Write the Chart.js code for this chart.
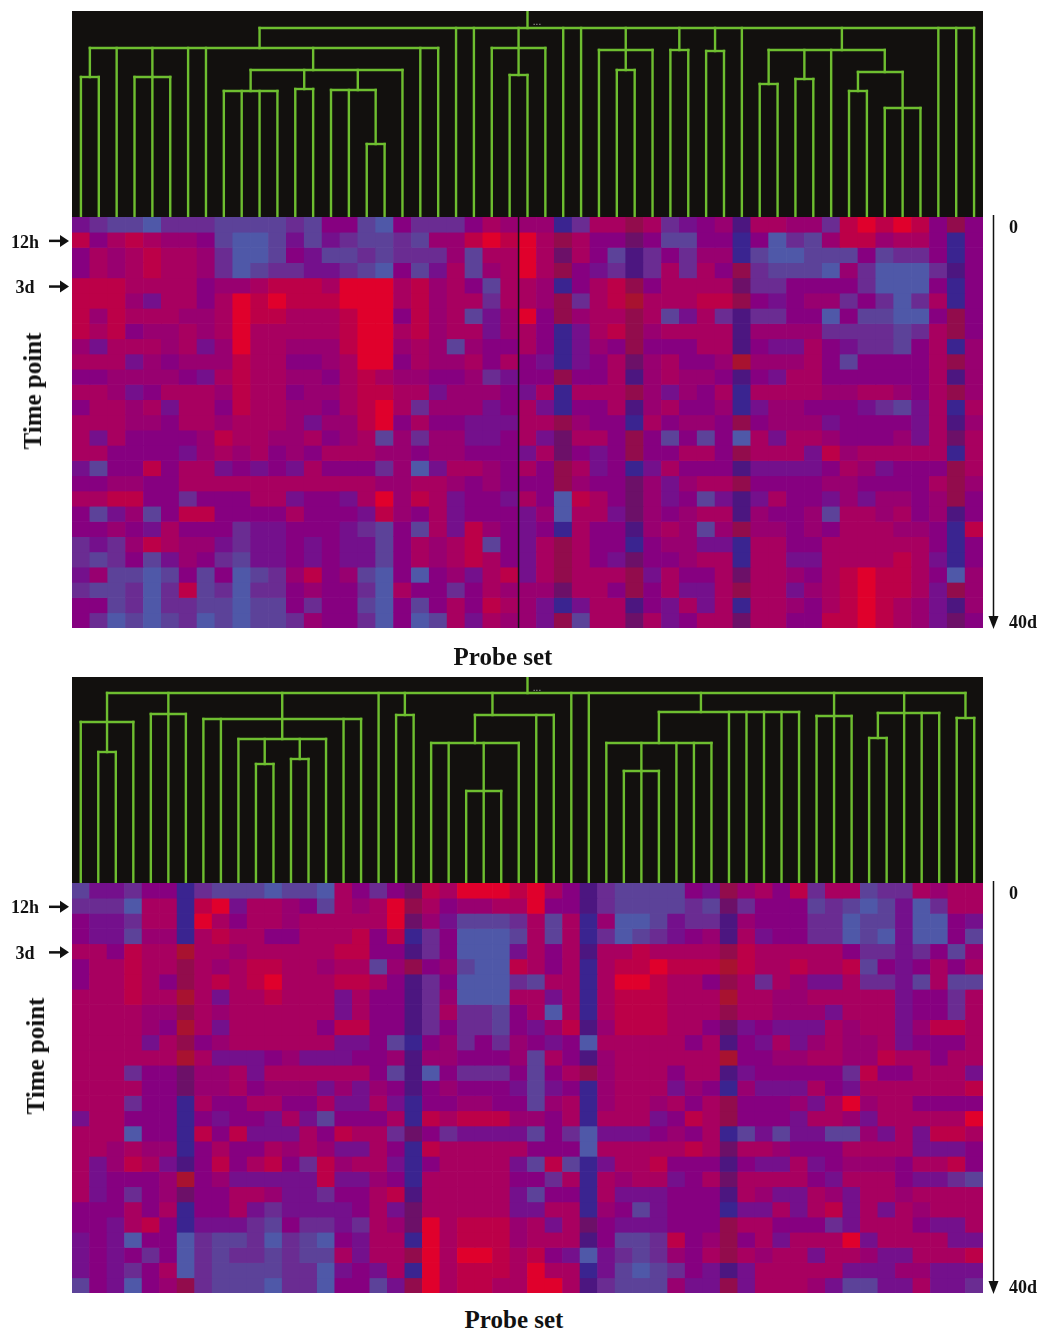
<!DOCTYPE html>
<html>
<head>
<meta charset="utf-8">
<title>Probe set heat maps</title>
<script src="https://cdn.jsdelivr.net/npm/chart.js@4/dist/chart.umd.min.js"></script>
<style>
    html, body { margin: 0; padding: 0; background: #fff; }
    #page { position: relative; width: 1043px; height: 1332px; overflow: hidden; }
    canvas { position: absolute; display: block; filter: blur(0.5px); }
    .dendro { background: #12100e; }
    .label {
        position: absolute;
        font: bold 25px "Liberation Serif", serif;
        color: #111;
        white-space: nowrap;
        transform: translate(-50%, -50%);
    }
    .label.vertical { transform: translate(-50%, -50%) rotate(-90deg); }
    .dots { position: absolute; font: 10px "Liberation Sans", sans-serif; color: #aaa; transform: translate(-50%, -50%); }
</style>
</head>
<body>
<div id="page">
    <canvas id="topTree" class="dendro" width="911" height="206" style="left:72px;top:11px"></canvas>
    <canvas id="topHeat" width="1043" height="419" style="left:0;top:213px"></canvas>
    <canvas id="bottomTree" class="dendro" width="911" height="206" style="left:72px;top:677px"></canvas>
    <canvas id="bottomHeat" width="1043" height="418" style="left:0;top:879px"></canvas>

    <div class="dots" style="left:537px;top:21px">...</div>
    <div class="dots" style="left:537px;top:687px">...</div>
    <div class="label vertical" style="left:33px;top:391px">Time point</div>
    <div class="label" style="left:503px;top:657px">Probe set</div>
    <div class="label vertical" style="left:36px;top:1056px">Time point</div>
    <div class="label" style="left:514px;top:1320px">Probe set</div>
</div>

<script>
// expression shades: a = strongest red ... i = blue, j-n = the darker control columns
const shadeColors = {
    a: "#e0002c", b: "#bc0048", c: "#a80060", d: "#980070", e: "#860080",
    f: "#74108c", g: "#6a2c92", h: "#5c4299", i: "#4f58a8",
    j: "#3a2490", k: "#4c1680", l: "#6c1068", m: "#920c4c", n: "#a81230"
};

const leftTickRows = [1.7, 4.7];
const leftTickLabels = ["12h", "3d"];
const rightTickRows = [0.75, 26.7];
const rightTickLabels = ["0", "40d"];

// upper heat map, 27 time points x 51 probe sets
const topRows = [
    "fghhi ggghh hhghe ehieg ggecd ddjgc cmcgf edkcc ddgba babem e",
    "becbc ddehi ihfhf ghhgh ddbab acmce elehh eejei ghdbb dccej e",
    "ecdcb ccdgi ihefh hghgg gdhcc aclce hkgeg ddjhi ihhhe hggej e",
    "ecdcb ccdgi hggff ghieh fchdc acmef gkgcg cemgh hhidg iiigk e",
    "bbbcc ccedd cbbbc aaacb dcehc cdjec bmecc cclgg eeeeg iiiej e",
    "bbbdf cceca babbb aaacb dccgc cdmgc bnccc bbmef eddge gigcj e",
    "bdbcc cddca bbccc baaeb dchfd aemdc cmchf cgkgg eeieh hiiem e",
    "bcbed dcdca ccccc baacb dccfd cejfc bmdcc cckdd ddggg ghgcm e",
    "dfccc dcfda ccddd baadc dhdee cejfd emeee cckef fcefg ghecj d",
    "cccfd edddb cceed caaec ddcec efjfe cldce edndd dcehe eeecm d",
    "eeddd defcb ccdde cbcdd eedgf eemee ckdcd dekef cceee eeeck d",
    "ccdfe cccdb ccedd cbbcc fddde fcjcc cmdfd ecjcc ccddc cdecm d",
    "eccdc fcceb ccdde cbacg dddfe cfjee ckdce edjfd deeef ghfcj c",
    "cccdd eccdc ccdfd dbaec eefff ccmde ejced demed ddfee eefck d",
    "cfcee eedbc cddce dchdg ddffe cflcc emehe heicf ccdee edfcl c",
    "cceee efdcd cedec ccdde ddeee fclef emeec cemcc cfbdc ccccj c",
    "fheeb eccfe fefce eegdi fccde cemcf ejfce eekff ffecd feeem c",
    "eedde ecccc ccccc ccddc cdede eemde eldfd ccmee eedde eeecm d",
    "ccbbe egeee ccfee fcadb cfeef ceibc eldfe hfkfc eefdf ddedm e",
    "ehfdh ebbee eecee efbde cfeee fdicc flded cckde edhcc dcedk e",
    "eedef ceeeg ffeee fgheh cfbde fejce ekdcd hdmdd edecc cddej b",
    "gfgdb cddfg ffefe ffhec dcbhe fcmce ejedd ffjcc eeccc cccej e",
    "ghgeh fdegh ffefe ffhec dcbce fcmce fleed ccjcc ffccc cbcfj e",
    "fdhhi hehei hgdbe dhiei edfcb fcmcc cmfce eclcc decba bbcei d",
    "ghhgi gbhgi ggede egice egecd ddlcc emecf fcmcc fdcba bbcfm d",
    "eehgi gghhi hhege ehieh ecebc dfjfc ckefc fcjcc decba bcdfk d",
    "egihi hgihi hhgde egiei hcfcd dfmhc clcfe cclcc eebba bcdfl e"
];

// lower heat map, 27 time points x 52 probe sets
const bottomRows = [
    "hffge ejghh hihhi cegel bcaaa b acekg hhhhe fmdce bgcch ggcdc c",
    "gggic cjbaf ccdeh cdcam ceddc c aeekg hhhhg hlgee ehghi hfigc c",
    "effgc cjace ccdcc cccal dfhhh g chcjd iihfg gkdee eggih hfiie f",
    "effhd djcbc ceecc cbebj geiii h chcjg ihgfe dkcfe eggih ifiie h",
    "ccebc cnccd ccccc bbeek geiii f ceckc cbccc cmbcc ccceg gfgeh d",
    "eccbc cmcdc bbccd cchdm edhii b cecjc bbabb bnbcc bccbh efece c",
    "eccbc emcbc baccc bbcek geiii g hccjc aabcc emcgc dffcg gfhch h",
    "cccbc cncfc cbccc fceek gdiii c cfcjc bbbcc cnccd dcccc cfeeg c",
    "ccccd dmcdc ccccc fceek gcggh e cicjc bbbcc cmccd ddfcc cfeeg c",
    "ccccd encfc cccce bbeek geggh e fdbkd bbbcc elfef ffcdc cfdbb c",
    "ccccf cmedc ccccc ffehj edgeg d efeic cccce ckefc fdcdd cfeee c",
    "ccccc cncff fedff feedk ddeee d hcekd ccccc cneed dccdd bccec c",
    "cccge elddc fcccc ccehk ieggg e hecmd cccec ckfee eeegb eeccc f",
    "cccce elddc edddf dfdek edeee f hfejd cccfd ejdff fcefc ccccc b",
    "cccge ejcee cceec ffcfj eedde e hdcjd ccdce cmeee dfcad cceee e",
    "fccee ejefe efcfh eeecj bcbbb d decjc ccfeb cmeee fccdf ccccc a",
    "cccie ejbeb fffce bccgl egfff f hegif ffede cjhfh ffhhd fcfbb c",
    "ccdcd djece ecdcd ffcej bcccc c eeeic ccccb clccd eeecc ccfff e",
    "cfdbc fkebe cbegb dccfj ecccc f hbhjf ccbee ekeff cfedd deccb e",
    "cfeee dnedf ffffb ffdej ccccc e egcjc dccfe clccc cefcc ceffg h",
    "cfege dleec cdffg eecbk ccccc f heejc fffee ekcdf fcdfc cdccc c",
    "eeece cjeec fgfff fecfl ccccc f fccjd ehfee ejffc fcbfc fcdcc c",
    "eefcb ejfff ghegg fgcdl acbbb d cfcle fffee emcce eegfc cceff c",
    "fefie eighh gighi efccj acbbb d cccke hhgbe dmecf cccaf ccccf f",
    "fefeg eighg ghghh cfccm acaab c befif ghgde cmcdc cfccd ffccc b",
    "fefge cighh hhggi fefcj acbbb c accjf hihge fkfcc cccff fddff f",
    "hefie dmghh higgi eehfm acbbc c aackg hhhdf fmfcc cdfhh ffcff g"
];

// black divider in the upper map, first column to the right of it
const topDividerColumn = 25;

// upper dendrogram: depth is measured down from the top of the black band
const topLeafDepth = [
    66, 66, 37, 66, 66, 66, 37, 37, 80, 80, 80, 80, 78, 78, 79, 79, 133, 133, 59, 37,
    37, 17, 17, 37, 64, 64, 37, 17, 17, 39, 59, 59, 39, 39, 39, 40, 40, 17, 73, 73,
    68, 68, 39, 80, 80, 97, 97, 97, 17, 17, 17
];
const topBars = [
    [10, 50, 17], [0.5, 20, 37], [0, 1, 66], [3, 5, 66], [9.5, 18, 59], [8, 11, 80], [12, 13, 78],
    [14, 16.5, 79], [16, 17, 133], [23, 26, 37], [24, 25, 64], [29, 32, 39], [30, 31, 59], [33, 34, 39],
    [35, 36, 40], [38.5, 45, 39], [38, 39, 73], [40, 41, 68], [43.5, 46, 61], [43, 44, 80], [45, 47, 97]
];
const topStems = [
    [25, 0, 17], [10, 17, 37], [24.5, 17, 64], [30.5, 17, 59], [33.5, 17, 39], [35.5, 17, 40], [42.6, 17, 39],
    [0.5, 37, 66], [4, 37, 66], [13, 37, 59], [9.5, 59, 80], [12.5, 59, 78], [15.5, 59, 79], [16.5, 79, 133],
    [38.5, 39, 73], [40.5, 39, 68], [45, 39, 61], [43.5, 61, 80], [46, 61, 97]
];

// lower dendrogram
const bottomLeafDepth = [
    45, 75, 75, 45, 37, 37, 37, 42, 42, 62, 87, 87, 82, 82, 62, 42, 42, 16, 38, 38,
    66, 66, 114, 114, 114, 66, 38, 38, 16, 16, 66, 94, 94, 94, 66, 66, 66, 35, 35, 35,
    35, 35, 39, 39, 39, 61, 61, 36, 36, 36, 41, 41
];
const bottomBars = [
    [1.5, 50.5, 16], [0, 3, 45], [1, 2, 75], [4, 6, 37], [7, 16, 42], [9, 14, 62], [10, 11, 87], [12, 13, 82],
    [18, 19, 38], [22.5, 27, 38], [20, 25, 66], [22, 24, 114], [33, 41, 35], [30, 36, 66], [31, 33, 94],
    [42, 44, 39], [45.5, 49, 36], [45, 46, 61], [50, 51, 41]
];
const bottomStems = [
    [25.5, 0, 16], [1.5, 16, 75], [5, 16, 37], [11.5, 16, 62], [10.5, 62, 87], [12.5, 62, 82], [18.5, 16, 38],
    [23.5, 16, 38], [22.5, 38, 66], [23, 66, 114], [35.4, 16, 35], [33, 35, 66], [32, 66, 94], [43, 16, 39],
    [47, 16, 36], [45.5, 36, 61], [50.5, 16, 41]
];

const tickFont = { family: "'Liberation Serif', serif", size: 18, weight: "bold" };
const inkColor = "#111";

/* Short arrows next to the time labels, the long time arrow and the divider */
const timeMarks = {
    id: "timeMarks",
    afterDraw(chart, args, opts) {
        const { ctx, chartArea, scales } = chart;
        ctx.save();
        ctx.strokeStyle = inkColor;
        ctx.fillStyle = inkColor;

        if (opts.divider !== null) {
            const xDiv = (scales.x.getPixelForValue(opts.divider - 1) + scales.x.getPixelForValue(opts.divider)) / 2;
            ctx.lineWidth = 1.5;
            ctx.beginPath();
            ctx.moveTo(xDiv, chartArea.top);
            ctx.lineTo(xDiv, chartArea.bottom);
            ctx.stroke();
        }

        ctx.lineWidth = 2.5;
        leftTickRows.forEach(row => {
            const y = scales.y.getPixelForValue(row) - 2;
            ctx.beginPath();
            ctx.moveTo(chartArea.left - 23, y);
            ctx.lineTo(chartArea.left - 10, y);
            ctx.stroke();
            ctx.beginPath();
            ctx.moveTo(chartArea.left - 3, y);
            ctx.lineTo(chartArea.left - 12, y - 6);
            ctx.lineTo(chartArea.left - 12, y + 6);
            ctx.closePath();
            ctx.fill();
        });

        const x = chartArea.right + 10.5;
        ctx.lineWidth = 1.5;
        ctx.beginPath();
        ctx.moveTo(x, chartArea.top - 2);
        ctx.lineTo(x, chartArea.bottom - 10);
        ctx.stroke();
        ctx.beginPath();
        ctx.moveTo(x, chartArea.bottom + 1);
        ctx.lineTo(x - 5, chartArea.bottom - 12);
        ctx.lineTo(x + 5, chartArea.bottom - 12);
        ctx.closePath();
        ctx.fill();
        ctx.restore();
    }
};

function sizeTimeAxis(scale, width) {
    scale.width = width;
    scale.paddingTop = 0;
    scale.paddingBottom = 0;
}

function drawHeatmap(canvasId, rows, divider) {
    const cells = rows.map(r => r.replace(/ /g, "").split(""));
    const labels = cells[0].map((_, i) => i + 1);

    const datasets = cells.map(row => ({
        data: row.map(() => 1),
        backgroundColor: row.map(code => shadeColors[code]),
        borderWidth: 0,
        borderSkipped: false,
        barPercentage: 1,
        categoryPercentage: 1
    }));

    return new Chart(document.getElementById(canvasId), {
        type: "bar",
        data: { labels, datasets },
        plugins: [timeMarks],
        options: {
            responsive: false,
            animation: false,
            devicePixelRatio: 1,
            layout: { padding: { top: 4, bottom: 4 } },
            plugins: {
                legend: { display: false },
                tooltip: { enabled: false },
                timeMarks: { divider }
            },
            scales: {
                x: { stacked: true, display: false },
                y: {
                    stacked: true,
                    reverse: true,
                    min: 0,
                    max: rows.length,
                    position: "left",
                    border: { display: false },
                    grid: { display: false, drawTicks: false },
                    afterFit(scale) { sizeTimeAxis(scale, 72); },
                    afterBuildTicks(scale) { scale.ticks = leftTickRows.map(value => ({ value })); },
                    ticks: {
                        autoSkip: false,
                        crossAlign: "center",
                        padding: 33,
                        color: inkColor,
                        font: tickFont,
                        callback: value => leftTickLabels[leftTickRows.indexOf(value)]
                    }
                },
                yTime: {
                    reverse: true,
                    min: 0,
                    max: rows.length,
                    position: "right",
                    border: { display: false },
                    grid: { display: false, drawTicks: false },
                    afterFit(scale) { sizeTimeAxis(scale, 60); },
                    afterBuildTicks(scale) { scale.ticks = rightTickRows.map(value => ({ value })); },
                    ticks: {
                        autoSkip: false,
                        padding: 26,
                        color: inkColor,
                        font: tickFont,
                        callback: value => rightTickLabels[rightTickRows.indexOf(value)]
                    }
                }
            }
        }
    });
}

function drawTree(canvasId, leafDepth, bars, stems) {
    const segment = (x0, y0, x1, y1) => ({
        data: [{ x: x0, y: y0 }, { x: x1, y: y1 }],
        showLine: true,
        borderColor: "#6ebe30",
        borderWidth: 2.4,
        borderCapStyle: "square",
        pointRadius: 0,
        clip: false
    });

    const datasets = [
        ...leafDepth.map((depth, leaf) => segment(leaf, depth, leaf, 206)),
        ...bars.map(([from, to, depth]) => segment(from, depth, to, depth)),
        ...stems.map(([x, from, to]) => segment(x, from, x, to))
    ];

    return new Chart(document.getElementById(canvasId), {
        type: "scatter",
        data: { datasets },
        options: {
            responsive: false,
            animation: false,
            devicePixelRatio: 1,
            plugins: { legend: { display: false }, tooltip: { enabled: false } },
            scales: {
                x: { type: "linear", display: false, min: -0.5, max: leafDepth.length - 0.5 },
                y: { type: "linear", display: false, reverse: true, min: 0, max: 206 }
            }
        }
    });
}

drawTree("topTree", topLeafDepth, topBars, topStems);
drawHeatmap("topHeat", topRows, topDividerColumn);
drawTree("bottomTree", bottomLeafDepth, bottomBars, bottomStems);
drawHeatmap("bottomHeat", bottomRows, null);
</script>
</body>
</html>
